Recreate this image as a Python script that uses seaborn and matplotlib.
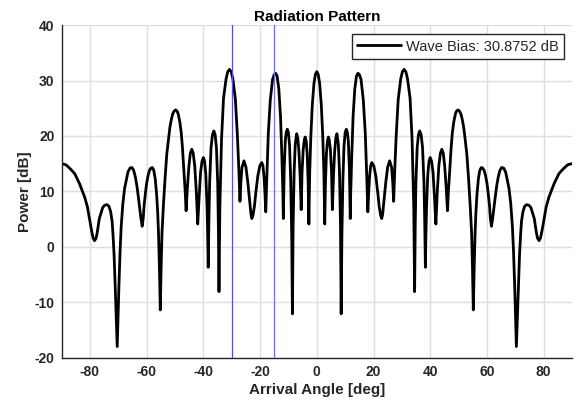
import matplotlib
matplotlib.use("Agg")
import matplotlib.pyplot as plt
import seaborn as sns
import pandas as pd

# ---- data ----
angles_left = [
    -90.0, -88.5, -87.0, -85.4, -83.7, -81.9, -80.9, -80.1, -79.4, -78.9, -78.4, -77.9, -77.5,
    -76.7, -75.5, -74.8, -74.0, -73.3, -72.7, -72.2, -71.9, -71.5, -71.1, -70.4, -69.8, -69.4,
    -69.0, -68.4, -67.8, -66.6, -65.9, -65.2, -64.6, -64.0, -63.4, -62.8, -62.1, -61.6, -61.2,
    -60.9, -60.4, -60.0, -59.5, -59.0, -58.5, -58.0, -57.5, -57.0, -56.5, -56.1, -55.8, -55.5,
    -55.2, -54.9, -54.6, -54.1, -53.5, -52.9, -52.3, -51.8, -51.3, -50.8, -50.3, -49.8, -49.3,
    -48.9, -48.3, -47.8, -47.4, -46.8, -46.4, -46.1, -45.6, -45.1, -44.6, -44.1, -43.6, -43.05,
    -42.5, -42.0, -41.5, -41.0, -40.5, -40.0, -39.6, -39.15, -38.7, -38.5, -38.3, -38.05, -37.8,
    -37.3, -36.8, -36.3, -35.85, -35.4, -34.95, -34.7, -34.5, -34.2, -33.6, -32.9, -32.0, -31.4,
    -30.8, -30.2, -29.6, -28.7, -28.0, -27.5, -27.1, -26.8, -26.4, -25.7, -25.0, -24.3, -23.6,
    -23.2, -22.9, -22.5, -22.0, -21.5, -20.8, -20.1, -19.4, -19.0, -18.6, -18.3, -18.0, -17.6,
    -17.1, -16.4, -15.6, -15.0, -14.5, -14.0, -13.4, -12.8, -12.3, -11.95, -11.8, -11.5, -11.1,
    -10.75, -10.4, -10.0, -9.6, -9.2, -8.85, -8.6, -8.35, -8.0, -7.6, -7.1, -6.7, -6.3, -5.9,
    -5.5, -5.2, -4.8, -4.4, -4.1, -3.75, -3.4, -3.05, -2.8, -2.5, -2.1, -1.6, -1.0, -0.5, 0.0,
]
power_left = [
    15.0, 14.8, 14.1, 13.2, 11.4, 9.0, 7.2, 4.8, 2.8, 1.6, 1.1, 1.5, 2.4,
    5.1, 7.1, 7.5, 7.6, 7.3, 6.3, 4.6, 2.4, -1.5, -7.2, -18.0, -7.2, -1.0,
    3.6, 7.8, 10.5, 13.5, 14.2, 14.3, 13.8, 12.6, 10.8, 8.4, 5.4, 3.7, 5.3,
    7.5, 9.9, 11.5, 12.9, 13.8, 14.2, 14.3, 13.8, 12.3, 9.5, 6.0, 2.0, -4.0,
    -11.4, -3.5, 2.5, 7.5, 12.5, 16.8, 19.5, 21.6, 23.0, 24.0, 24.5, 24.7, 24.5,
    24.0, 22.5, 20.5, 18.0, 13.2, 9.8, 6.5, 11.0, 14.6, 16.9, 17.6, 16.9, 14.6,
    10.0, 4.1, 9.0, 13.4, 15.4, 16.1, 15.5, 13.1, 7.0, 2.5, -3.7, 5.0, 11.5,
    17.9, 20.2, 20.9, 20.2, 17.9, 11.5, 3.0, -8.1, 7.0, 19.5, 26.8, 30.3, 31.6,
    32.0, 31.6, 30.3, 26.5, 20.0, 14.0, 8.2, 11.5, 14.3, 15.5, 14.4, 11.5, 7.8,
    5.8, 5.1, 5.7, 7.3, 9.8, 12.8, 14.6, 15.2, 14.6, 12.6, 9.8, 6.3, 13.0,
    20.5, 26.5, 30.2, 31.1, 31.3, 30.8, 28.5, 23.5, 16.0, 9.5, 5.1, 14.0, 19.2,
    20.7, 21.2, 20.6, 18.2, 12.0, 2.0, -12.1, 4.0, 13.5, 18.5, 20.4, 19.6, 17.2, 13.0,
    6.7, 13.5, 17.5, 19.3, 19.8, 19.1, 16.8, 11.5, 4.1, 13.5, 20.0, 25.5, 29.5, 31.1, 31.6,
]
angles_right = [
    0.5, 1.0, 1.6, 2.1, 2.5, 2.8, 3.05, 3.4, 3.75, 4.1, 4.4, 4.8, 5.2, 5.5, 5.9, 6.3, 6.7,
    7.1, 7.6, 8.0, 8.35, 8.6, 8.85, 9.2, 9.6, 10.0, 10.4, 10.75, 11.1, 11.5, 11.8, 11.95,
    12.3, 12.8, 13.4, 14.0, 14.5, 15.0, 15.6, 16.4, 17.1, 17.6, 18.0, 18.3, 18.6, 19.0,
    19.4, 20.1, 20.8, 21.5, 22.0, 22.5, 22.9, 23.2, 23.6, 24.3, 25.0, 25.7, 26.4, 26.8,
    27.1, 27.5, 28.0, 28.7, 29.6, 30.2, 30.8, 31.4, 32.0, 32.9, 33.6, 34.2, 34.5, 34.7,
    34.95, 35.4, 35.85, 36.3, 36.8, 37.3, 37.8, 38.05, 38.3, 38.5, 38.7, 39.15, 39.6, 40.0,
    40.5, 41.0, 41.5, 42.0, 42.5, 43.05, 43.6, 44.1, 44.6, 45.1, 45.6, 46.1, 46.4, 46.8,
    47.4, 47.8, 48.3, 48.9, 49.3, 49.8, 50.3, 50.8, 51.3, 51.8, 52.3, 52.9, 53.5, 54.1,
    54.6, 54.9, 55.2, 55.5, 55.8, 56.1, 56.5, 57.0, 57.5, 58.0, 58.5, 59.0, 59.5, 60.0,
    60.4, 60.9, 61.2, 61.6, 62.1, 62.8, 63.4, 64.0, 64.6, 65.2, 65.9, 66.6, 67.8, 68.4,
    69.0, 69.4, 69.8, 70.4, 71.1, 71.5, 71.9, 72.2, 72.7, 73.3, 74.0, 74.8, 75.5, 76.7,
    77.5, 77.9, 78.4, 78.9, 79.4, 80.1, 80.9, 81.9, 83.7, 85.4, 87.0, 88.5, 90.0,
]
power_right = [
    31.1, 29.5, 25.5, 20.0, 13.5, 4.1, 11.5, 16.8, 19.1, 19.8, 19.3, 17.5, 13.5, 6.7, 13.0, 17.2, 19.6,
    20.4, 18.5, 13.5, 4.0, -12.1, 2.0, 12.0, 18.2, 20.6, 21.2, 20.7, 19.2, 14.0, 5.1, 9.5,
    16.0, 23.5, 28.5, 30.8, 31.3, 31.1, 30.2, 26.5, 20.5, 13.0, 6.3, 9.8, 12.6, 14.6,
    15.2, 14.6, 12.8, 9.8, 7.3, 5.7, 5.1, 5.8, 7.8, 11.5, 14.4, 15.5, 14.3, 11.5,
    8.2, 14.0, 20.0, 26.5, 30.3, 31.6, 32.0, 31.6, 30.3, 26.8, 19.5, 7.0, -8.1, 3.0,
    11.5, 17.9, 20.2, 20.9, 20.2, 17.9, 11.5, 5.0, -3.7, 2.5, 7.0, 13.1, 15.5, 16.1,
    15.4, 13.4, 9.0, 4.1, 10.0, 14.6, 16.9, 17.6, 16.9, 14.6, 11.0, 6.5, 9.8, 13.2,
    18.0, 20.5, 22.5, 24.0, 24.5, 24.7, 24.5, 24.0, 23.0, 21.6, 19.5, 16.8, 12.5, 7.5,
    2.5, -3.5, -11.4, -4.0, 2.0, 6.0, 9.5, 12.3, 13.8, 14.3, 14.2, 13.8, 12.9, 11.5,
    9.9, 7.5, 5.3, 3.7, 5.4, 8.4, 10.8, 12.6, 13.8, 14.3, 14.2, 13.5, 10.5, 7.8,
    3.6, -1.0, -7.2, -18.0, -7.2, -1.5, 2.4, 4.6, 6.3, 7.3, 7.6, 7.5, 7.1, 5.1,
    2.4, 1.5, 1.1, 1.6, 2.8, 4.8, 7.2, 9.0, 11.4, 13.2, 14.1, 14.8, 15.0,
]
beam_angles = [-30, -15]
legend_label = "Wave Bias: 30.8752 dB"
x_ticks = [-80, -60, -40, -20, 0, 20, 40, 60, 80]
y_ticks = [-20, -10, 0, 10, 20, 30, 40]

df = pd.DataFrame({"angle": angles_left + angles_right,
                   "power": power_left + power_right})

sns.set_theme(style="white")
plt.rcParams["font.family"] = ["Liberation Sans", "DejaVu Sans"]
plt.rcParams["axes.unicode_minus"] = False

fig = plt.figure(figsize=(5.76, 4.05), dpi=100)
ax = fig.add_axes([0.107, 0.117, 0.886, 0.821])

ax.set_xlim(-90, 90)
ax.set_ylim(-20, 40)
ax.set_xticks(x_ticks)
ax.set_yticks(y_ticks)
ax.grid(True, color="#dedede", linewidth=1.0)
ax.set_axisbelow(True)

sns.lineplot(data=df, x="angle", y="power", ax=ax, color="black",
             linewidth=2.0, label=legend_label, sort=True, estimator=None)

beam_colors = ["#5050e6", "#6e6eff"]
for a, c in zip(beam_angles, beam_colors):
    ax.axvline(a, color=c, linewidth=0.9, zorder=3)

for s in ["top", "right"]:
    ax.spines[s].set_visible(False)
for s in ["left", "bottom"]:
    ax.spines[s].set_color("#262626")
    ax.spines[s].set_linewidth(1.0)

ax.tick_params(direction="in", length=4, width=1.0, color="#262626",
               labelsize=10, pad=5)
for lab in ax.get_xticklabels() + ax.get_yticklabels():
    lab.set_fontweight("bold")
    lab.set_color("#262626")

ax.set_xlabel("Arrival Angle [deg]", fontsize=11, fontweight="bold", color="#262626", labelpad=3)
ax.set_ylabel("Power [dB]", fontsize=11, fontweight="bold", color="#262626", labelpad=2)
ax.set_title("Radiation Pattern", fontsize=11, fontweight="bold", color="black", pad=3)

leg = ax.legend(loc="upper right", bbox_to_anchor=(0.985, 0.972), borderaxespad=0,
                fancybox=False, framealpha=1, edgecolor="#262626", fontsize=10.5,
                handlelength=3.0, borderpad=0.35, handletextpad=0.4)
leg.get_frame().set_linewidth(1.0)

fig.savefig("out.png", dpi=100)
